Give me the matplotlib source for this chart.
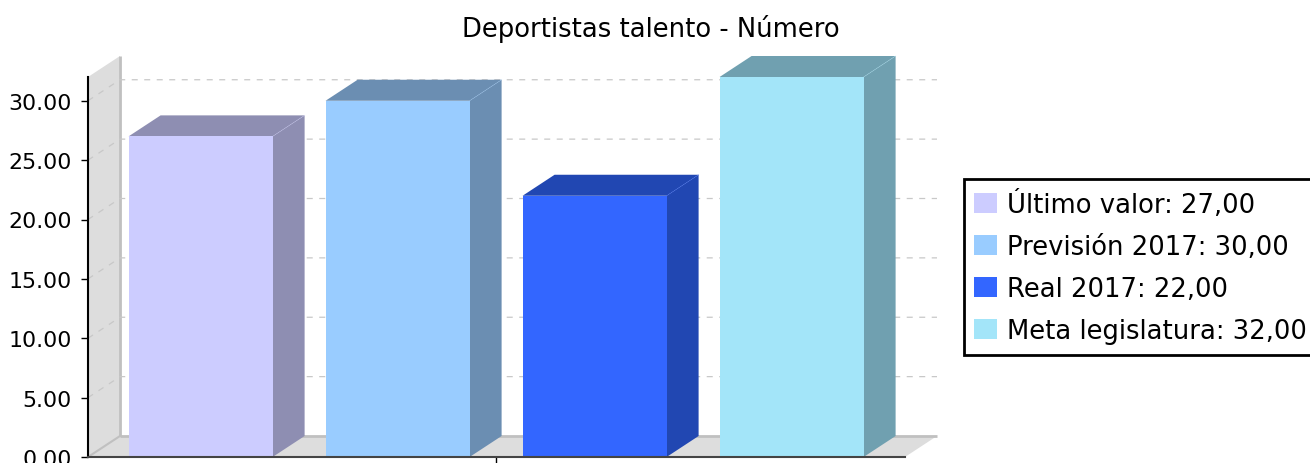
import matplotlib
matplotlib.use("Agg")
import matplotlib.pyplot as plt
from matplotlib.patches import Polygon, Patch

categories = ["Último valor", "Previsión 2017", "Real 2017", "Meta legislatura"]
values = [27.0, 30.0, 22.0, 32.0]
front_colors = ["#CCCCFF", "#99CCFF", "#3366FF", "#A3E5F9"]
side_colors = ["#8E8EB2", "#6B8EB2", "#2147B2", "#70A0B0"]
y_ticks = [0, 5, 10, 15, 20, 25, 30]
title = "Deportistas talento - Número"

W, H = 1310, 464
plt.rcParams["font.family"] = ["DejaVu Sans"]
fig = plt.figure(figsize=(W / 100, H / 100), dpi=100)
ax = fig.add_axes([88 / W, 1 - 458 / H, 817 / W, 380 / H])
ax.set_xlim(-112.6 / 197, 704.4 / 197)
ax.set_ylim(0, 32)
ax.patch.set_alpha(0)

DX = 32 / 197
DY = 21 / (380 / 32)
x0, x1 = ax.get_xlim()
wall, wall_edge = "#DDDDDD", "#C0C0C0"

# walls and floor
ax.add_patch(Polygon([(x0, 0), (x0 + DX, DY), (x0 + DX, 32 + DY), (x0, 32)],
                     fc=wall, ec="none", clip_on=False, zorder=1))
ax.add_patch(Polygon([(x0, 0), (x0 + DX, DY), (x1 + DX, DY), (x1, 0)],
                     fc=wall, ec="none", clip_on=False, zorder=1))
ax.plot([x0 + DX, x0 + DX], [DY, 32 + DY], color=wall_edge, lw=2, clip_on=False, zorder=2, solid_capstyle="butt")
ax.plot([x0 + DX, x1 + DX], [DY, DY], color=wall_edge, lw=2, clip_on=False, zorder=2, solid_capstyle="butt")
ax.plot([x0, x0 + DX], [0, DY], color=wall_edge, lw=1.5, clip_on=False, zorder=2)

# gridlines
for t in y_ticks[1:]:
    ax.plot([x0, x0 + DX, x1 + DX], [t, t + DY, t + DY], color="#C8C8C8", lw=0.9,
            dashes=(4.8, 5.2), clip_on=False, zorder=2)

# 3D bars
w = 144 / 197
for i, (v, fc, sc) in enumerate(zip(values, front_colors, side_colors)):
    l, r = i - w / 2, i + w / 2
    ax.add_patch(Polygon([(l, v), (l + DX, v + DY), (r + DX, v + DY), (r, v)],
                         fc=sc, ec="none", clip_on=False, zorder=3))
    ax.add_patch(Polygon([(r, 0), (r + DX, DY), (r + DX, v + DY), (r, v)],
                         fc=sc, ec="none", clip_on=False, zorder=3))
    ax.plot([r, r + DX], [v, v + DY], color=fc, lw=0.5, alpha=0.4, clip_on=False, zorder=3.5)
ax.bar(range(4), values, width=w, color=front_colors, zorder=4, clip_on=False)

for s in ("top", "right"):
    ax.spines[s].set_visible(False)
ax.spines["left"].set_color("black")
ax.spines["left"].set_linewidth(1.5)
ax.spines["bottom"].set_color("#444444")
ax.spines["bottom"].set_linewidth(1.5)
for s in ax.spines.values():
    s.set_zorder(5)

ax.set_yticks(y_ticks, [f"{t:.2f}" for t in y_ticks])
ax.set_xticks([1.5], [""])
ax.tick_params(axis="y", length=5, width=1, pad=6.5, labelsize=15.9, colors="black")
ax.tick_params(axis="x", length=5, width=1, colors="black")

fig.text(651 / W, 1 - 29 / H, title, ha="center", va="center", fontsize=18.6, color="black")

handles = [Patch(fc=c, ec="none") for c in front_colors]
labels = [f"{c}: {v:.2f}".replace(".", ",") for c, v in zip(categories, values)]
leg = fig.legend(handles, labels, loc="upper left",
                 bbox_to_anchor=(963.5 / W, 1 - 180 / H), bbox_transform=fig.transFigure,
                 fontsize=18.6, frameon=True, fancybox=False, framealpha=1, edgecolor="black",
                 borderpad=0.42, labelspacing=0.62, handlelength=0.86, handleheight=0.86,
                 handletextpad=0.4, borderaxespad=0)
leg.get_frame().set_linewidth(2)

fig.savefig("out.png", dpi=100)
